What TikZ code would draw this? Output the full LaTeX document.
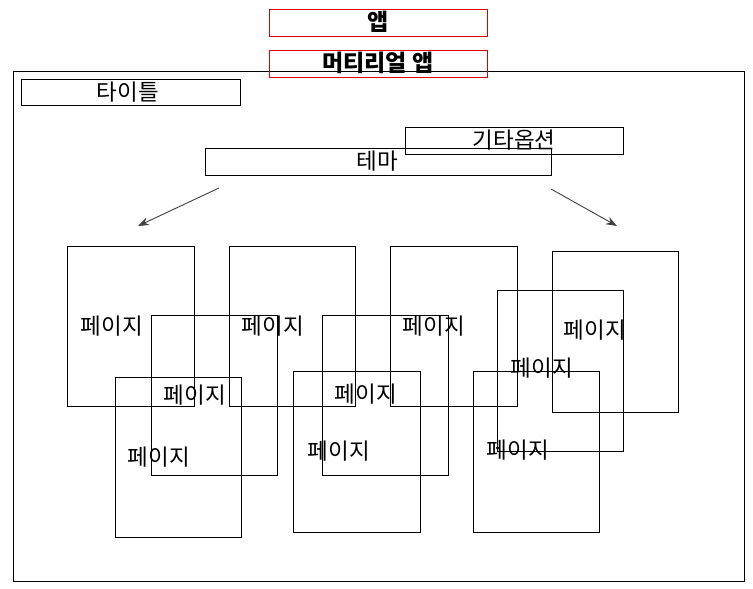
\documentclass[tikz,border=0pt]{standalone}
\usepackage{fontspec}
\setmainfont{Noto Sans CJK KR}
\usetikzlibrary{arrows.meta}
\tikzset{
  box/.style={draw=black, line width=1pt, inner sep=0pt, anchor=north west},
  redbox/.style={draw=red!85!black, line width=1pt, inner sep=0pt, anchor=north west},
  lbl/.style={inner sep=0pt, font=\fontsize{22.5}{24}\selectfont},
  blbl/.style={inner sep=0pt, font=\fontsize{23}{25}\selectfont\bfseries},
  arr/.style={draw=black!75, line width=0.9pt, -{Stealth[length=11pt,width=8pt]}}
}
\begin{document}
\begin{tikzpicture}[x=1pt,y=-1pt]
\useasboundingbox (0,0) rectangle (753,589);
% frame
\node[box, minimum width=731pt, minimum height=510pt] (frame) at (13,71) {};
% red boxes
\node[redbox, minimum width=218pt, minimum height=27pt] (appbox) at (269,9) {};
\node[blbl] (app) at (378,22) {앱};
\node[redbox, minimum width=218pt, minimum height=27pt] (mappbox) at (269,50) {};
\node[blbl] (mapp) at (378,63) {머티리얼 앱};
% title
\node[box, minimum width=219pt, minimum height=26pt] (titlebox) at (21,79) {};
\node[lbl] (title) at (128,92) {타이틀};
% other options
\node[box, minimum width=218pt, minimum height=27pt] (optbox) at (405,127) {};
\node[lbl] (opt) at (514,140) {기타옵션};
% theme
\node[box, minimum width=346pt, minimum height=27pt] (themebox) at (205,148) {};
\node[lbl] (theme) at (377,161) {테마};
% arrows
\coordinate (la) at (219,188);
\coordinate (lb) at (138,226);
\coordinate (ra) at (551,189);
\coordinate (rb) at (617,226);
\draw[arr] (la) -- (lb);
\draw[arr] (ra) -- (rb);
% pages
\node[box, minimum width=127pt, minimum height=160pt] (p1) at (67,246) {};
\node[lbl] (t1) at (112,326) {페이지};
\node[box, minimum width=126pt, minimum height=160pt] (p2) at (229,246) {};
\node[lbl] (t2) at (273,326) {페이지};
\node[box, minimum width=126pt, minimum height=160pt] (p3) at (151,315) {};
\node[lbl] (t3) at (195,395) {페이지};
\node[box, minimum width=126pt, minimum height=160pt] (p4) at (115,377) {};
\node[lbl] (t4) at (159,457) {페이지};
\node[box, minimum width=127pt, minimum height=160pt] (p5) at (390,246) {};
\node[lbl] (t5) at (434,326) {페이지};
\node[box, minimum width=126pt, minimum height=160pt] (p6) at (322,315) {};
\node[lbl] (t6) at (366,394) {페이지};
\node[box, minimum width=127pt, minimum height=161pt] (p7) at (293,371) {};
\node[lbl] (t7) at (339,451) {페이지};
\node[box, minimum width=126pt, minimum height=161pt] (p8) at (552,251) {};
\node[lbl] (t8) at (595,330) {페이지};
\node[box, minimum width=126pt, minimum height=161pt] (p9) at (497,290) {};
\node[lbl] (t9) at (542,368) {페이지};
\node[box, minimum width=126pt, minimum height=161pt] (p10) at (473,371) {};
\node[lbl] (t10) at (518,450) {페이지};
\end{tikzpicture}
\end{document}
